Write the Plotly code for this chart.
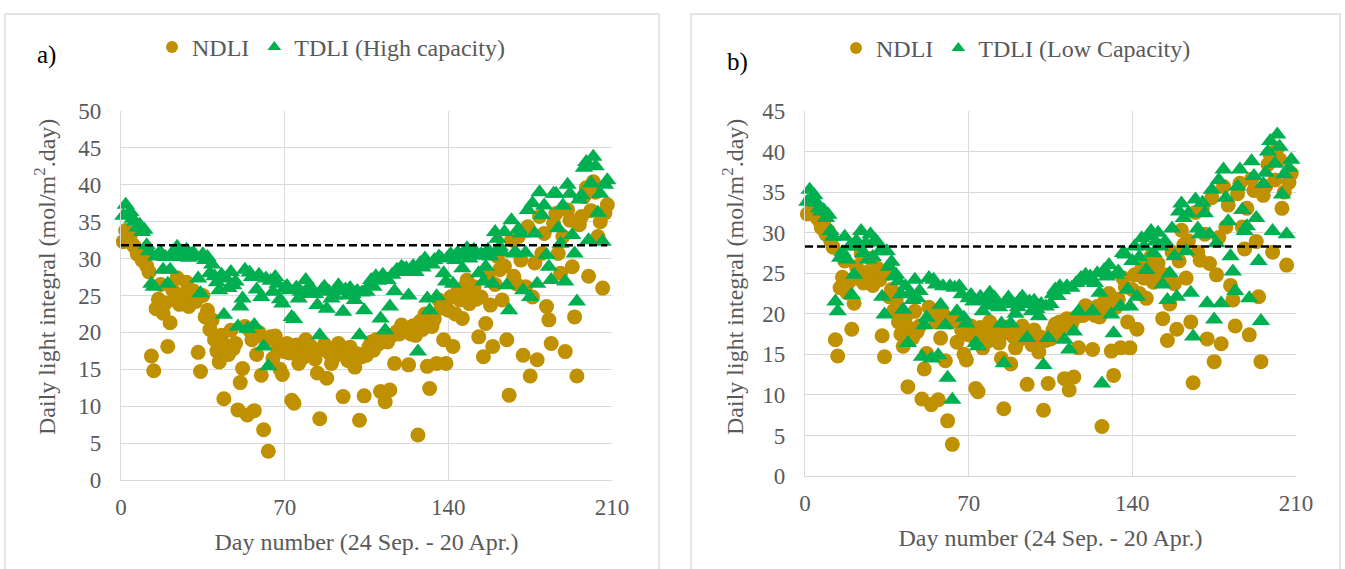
import plotly.graph_objects as go

W, H = 1345, 569

days = list(range(1, 209))

ndli = [
    32.3, 33.8, 32.8, 33.2, 31.9, 31.5, 30.6, 31.0, 29.8, 30.2,
    29.0, 28.2, 16.8, 14.8, 23.2, 24.5, 26.5, 22.6, 24.0, 18.1,
    21.3, 25.8, 24.4, 27.4, 23.8, 25.1, 24.0, 26.8, 23.5, 24.8,
    25.6, 24.2, 17.3, 14.7, 25.0, 22.1, 23.0, 20.4, 21.7, 19.0,
    17.5, 16.0, 19.6, 11.0, 18.2, 17.0, 20.3, 17.8, 18.5, 9.5,
    13.2, 15.1, 20.8, 8.8, 20.3, 19.0, 9.4, 17.0, 20.0, 14.2,
    6.8, 19.0, 3.9, 19.4, 16.5, 19.5, 18.0, 15.0, 14.3, 17.4,
    18.5, 17.2, 10.8, 10.4, 18.3, 15.8, 17.5, 16.6, 19.0, 17.8,
    18.2, 17.0, 16.4, 14.5, 8.3, 17.7, 18.4, 13.8, 17.2, 15.8,
    16.6, 17.9, 18.5, 17.2, 11.3, 17.6, 16.2, 18.0, 16.7, 15.3,
    17.1, 8.1, 16.7, 11.4, 16.9, 18.0, 18.7, 17.6, 19.0, 18.4,
    12.0, 19.4, 10.6, 18.7, 12.2, 19.6, 15.8, 20.1, 19.8, 21.0,
    20.2, 20.6, 15.6, 19.8, 20.9, 19.6, 6.1, 21.5, 20.4, 22.5,
    15.4, 12.4, 20.8, 21.8, 15.8, 24.4, 23.3, 19.0, 15.8, 23.0,
    24.8, 18.1, 22.5, 25.6, 24.4, 21.9, 26.2, 27.1, 23.9, 25.2,
    26.2, 24.5, 19.4, 24.8, 16.7, 21.2, 27.6, 23.7, 18.1, 26.5,
    30.3, 28.5, 24.4, 29.0, 19.0, 11.5, 32.5, 27.6, 26.6, 33.0,
    29.8, 16.9, 26.2, 34.3, 14.1, 24.8, 29.4, 16.3, 35.7, 30.7,
    33.4, 23.5, 21.7, 18.5, 34.8, 36.1, 30.7, 28.0, 33.0, 17.4,
    36.6, 35.2, 28.9, 22.1, 14.1, 34.6, 35.7, 38.4, 39.6, 27.6,
    36.5, 40.4, 39.0, 33.0, 35.0, 26.0, 36.2, 37.3,
]

tdli_high = [
    35.8, 37.3, 36.0, 36.3, 35.4, 35.0, 34.2, 34.6, 33.6, 33.9,
    31.8, 31.0, 26.6, 26.2, 30.3, 30.6, 30.8, 28.5, 30.2, 26.6,
    28.5, 30.8, 30.4, 31.6, 30.2, 30.7, 30.5, 31.2, 30.1, 30.6,
    30.8, 30.3, 27.3, 25.3, 30.6, 29.8, 30.2, 28.0, 29.2, 27.6,
    26.8, 25.7, 27.8, 22.4, 27.3, 26.0, 28.2, 26.4, 26.9, 20.8,
    23.5, 24.6, 28.5, 20.5, 28.1, 27.5, 21.0, 25.8, 27.8, 24.8,
    18.1, 27.3, 15.4, 27.0, 25.5, 27.5, 26.6, 24.5, 23.9, 26.0,
    26.3, 25.7, 22.1, 21.8, 26.1, 24.6, 25.5, 25.2, 27.1, 26.0,
    26.2, 25.6, 25.2, 23.7, 19.6, 25.8, 26.2, 23.2, 25.5, 24.6,
    25.0, 25.8, 26.4, 25.6, 22.8, 25.8, 25.0, 26.0, 25.2, 24.4,
    25.6, 19.6, 25.4, 23.0, 25.5, 26.3, 27.1, 26.2, 27.6, 27.0,
    21.9, 27.8, 20.3, 27.1, 23.5, 27.8, 25.6, 28.5, 28.2, 28.9,
    28.6, 28.7, 25.0, 28.3, 29.0, 28.2, 17.4, 29.4, 28.8, 30.0,
    24.6, 23.0, 29.2, 29.8, 24.9, 30.3, 30.0, 28.0, 26.9, 30.2,
    30.6, 26.6, 29.8, 30.8, 30.4, 28.7, 31.0, 31.4, 30.0, 30.7,
    31.2, 30.4, 28.0, 30.6, 26.9, 28.9, 31.2, 30.3, 26.6, 33.6,
    32.7, 31.6, 30.9, 33.6, 26.4, 23.0, 35.2, 30.7, 30.8, 34.0,
    33.4, 25.7, 30.8, 36.6, 24.8, 37.5, 33.4, 26.6, 39.0, 35.9,
    37.2, 30.5, 28.9, 27.1, 38.8, 38.8, 34.1, 32.0, 37.2, 26.9,
    40.0, 38.8, 33.2, 30.7, 24.2, 38.0, 38.6, 42.3, 43.1, 32.5,
    40.2, 43.8, 42.5, 36.2, 38.8, 32.3, 40.0, 40.6,
]

tdli_low = [
    33.8, 35.3, 34.3, 34.6, 33.7, 33.0, 32.6, 32.8, 31.8, 32.2,
    30.2, 29.5, 21.5, 20.3, 26.9, 27.6, 29.5, 26.7, 28.3, 22.3,
    24.8, 29.0, 28.3, 30.2, 27.5, 28.7, 26.7, 29.8, 27.0, 29.1,
    28.8, 27.7, 22.1, 19.9, 27.7, 25.8, 26.4, 24.6, 24.8, 24.0,
    22.4, 20.5, 23.4, 16.4, 22.6, 21.7, 24.2, 21.9, 22.8, 14.7,
    18.6, 19.5, 24.4, 14.5, 24.2, 23.6, 14.9, 21.1, 23.4, 18.6,
    12.1, 23.4, 9.4, 23.2, 20.3, 23.4, 22.4, 19.5, 18.8, 21.9,
    22.3, 21.5, 16.4, 16.0, 22.1, 20.3, 21.6, 21.0, 22.6, 21.8,
    22.0, 21.4, 20.8, 18.8, 13.9, 21.5, 22.0, 18.8, 21.2, 20.0,
    20.8, 21.8, 22.1, 21.2, 17.0, 21.5, 20.3, 21.6, 20.6, 19.7,
    21.2, 13.7, 20.9, 17.0, 21.2, 22.4, 23.0, 22.2, 23.4, 22.9,
    16.8, 23.4, 15.6, 23.2, 17.8, 23.8, 20.3, 24.4, 24.0, 24.8,
    24.2, 24.6, 20.3, 23.8, 25.0, 22.6, 11.4, 25.4, 24.6, 26.0,
    19.9, 17.6, 24.8, 25.2, 20.9, 27.5, 27.3, 23.0, 20.9, 26.5,
    28.3, 22.1, 27.0, 29.3, 28.3, 25.4, 29.6, 30.2, 27.5, 28.9,
    30.0, 28.3, 23.6, 28.9, 21.7, 25.0, 30.5, 27.1, 22.1, 32.6,
    33.6, 31.8, 27.7, 32.4, 22.6, 17.2, 34.1, 30.5, 29.8, 33.7,
    32.4, 21.3, 29.8, 35.3, 19.3, 28.7, 36.5, 21.3, 37.8, 34.3,
    31.4, 27.1, 25.2, 22.8, 35.7, 37.8, 32.8, 30.2, 30.8, 21.9,
    38.8, 37.0, 31.8, 26.5, 19.1, 36.0, 37.4, 40.0, 41.3, 30.2,
    38.5, 42.1, 40.6, 34.7, 37.2, 29.8, 38.0, 39.0,
]

target_days = [0, 208]
target_high = [31.8, 31.8]
target_low = [28.3, 28.3]

x_ticks = [0, 70, 140, 210]
y_ticks_a = list(range(0, 51, 5))
y_ticks_b = list(range(0, 46, 5))

x_title = "Day number (24 Sep. - 20 Apr.)"
y_title = "Daily light integral (mol/m<sup>2</sup>.day)"

GOLD = "#BF9000"
GREEN = "#00B050"
GRID = "#D9D9D9"
TXT = "#595959"
FONT = "Liberation Serif"

def px_x(p):
    return p / W

def px_y(p):
    return 1 - p / H

fig = go.Figure()

# panel a
fig.add_trace(go.Scatter(x=days, y=ndli, mode="markers", name="NDLI",
                         marker=dict(symbol="circle", size=15, color=GOLD, line=dict(width=0)),
                         xaxis="x", yaxis="y", cliponaxis=False, legend="legend"))
fig.add_trace(go.Scatter(x=days, y=tdli_high, mode="markers", name="TDLI (High capacity)",
                         marker=dict(symbol="triangle-up", size=16, color=GREEN, line=dict(width=0)),
                         xaxis="x", yaxis="y", cliponaxis=False, legend="legend"))
fig.add_trace(go.Scatter(x=target_days, y=target_high, mode="lines", showlegend=False,
                         line=dict(color="black", width=2.5, dash="8px,4px"),
                         xaxis="x", yaxis="y"))

# panel b
fig.add_trace(go.Scatter(x=days, y=ndli, mode="markers", name="NDLI",
                         marker=dict(symbol="circle", size=15, color=GOLD, line=dict(width=0)),
                         xaxis="x2", yaxis="y2", cliponaxis=False, legend="legend2"))
fig.add_trace(go.Scatter(x=days, y=tdli_low, mode="markers", name="TDLI (Low Capacity)",
                         marker=dict(symbol="triangle-up", size=16, color=GREEN, line=dict(width=0)),
                         xaxis="x2", yaxis="y2", cliponaxis=False, legend="legend2"))
fig.add_trace(go.Scatter(x=target_days, y=target_low, mode="lines", showlegend=False,
                         line=dict(color="black", width=2.5, dash="8px,4px"),
                         xaxis="x2", yaxis="y2"))

axis_common = dict(showgrid=True, gridcolor=GRID, gridwidth=1.3, zeroline=False,
                   showline=True, linecolor=GRID, linewidth=1.3, ticks="",
                   automargin=False,
                   tickfont=dict(family=FONT, size=23, color=TXT),
                   title_font=dict(family=FONT, size=24, color=TXT))

xa = dict(axis_common, range=[0, 210], tickvals=x_ticks, ticklabelstandoff=6,
          title=dict(text=x_title, standoff=14))

fig.update_layout(
    template="none",
    font=dict(family=FONT, color=TXT),
    width=W, height=H,
    margin=dict(l=0, r=0, t=0, b=0, autoexpand=False),
    paper_bgcolor="white", plot_bgcolor="white",
    xaxis=dict(xa, domain=[px_x(121), px_x(612)], anchor="y"),
    yaxis=dict(axis_common, range=[0, 50], tickvals=y_ticks_a, ticklabelstandoff=14,
               domain=[px_y(480), px_y(111)], anchor="x"),
    xaxis2=dict(xa, domain=[px_x(805), px_x(1296)], anchor="y2"),
    yaxis2=dict(axis_common, range=[0, 45], tickvals=y_ticks_b, ticklabelstandoff=14,
                domain=[px_y(476), px_y(111)], anchor="x2"),
    legend=dict(orientation="h", x=px_x(152), y=px_y(25), xanchor="left", yanchor="top",
                font=dict(family=FONT, size=24, color=TXT), bgcolor="rgba(0,0,0,0)",
                itemsizing="constant"),
    legend2=dict(orientation="h", x=px_x(836), y=px_y(26), xanchor="left", yanchor="top",
                 font=dict(family=FONT, size=24, color=TXT), bgcolor="rgba(0,0,0,0)",
                 itemsizing="constant"),
    shapes=[
        dict(type="rect", xref="paper", yref="paper",
             x0=px_x(5), x1=px_x(659), y0=px_y(585), y1=px_y(14),
             line=dict(color=GRID, width=1.3), fillcolor="rgba(0,0,0,0)", layer="below"),
        dict(type="rect", xref="paper", yref="paper",
             x0=px_x(691), x1=px_x(1340), y0=px_y(585), y1=px_y(14),
             line=dict(color=GRID, width=1.3), fillcolor="rgba(0,0,0,0)", layer="below"),
    ],
    annotations=[
        dict(text="a)", x=px_x(46), y=px_y(55), xref="paper", yref="paper",
             xanchor="center", yanchor="middle",
             showarrow=False, font=dict(family=FONT, size=25, color="black")),
        dict(text="b)", x=px_x(737), y=px_y(62), xref="paper", yref="paper",
             xanchor="center", yanchor="middle",
             showarrow=False, font=dict(family=FONT, size=25, color="black")),
        dict(text=y_title, x=px_x(45), y=px_y(277), xref="paper", yref="paper",
             xanchor="center", yanchor="middle", textangle=-90,
             showarrow=False, font=dict(family=FONT, size=24, color=TXT)),
        dict(text=y_title, x=px_x(733), y=px_y(277), xref="paper", yref="paper",
             xanchor="center", yanchor="middle", textangle=-90,
             showarrow=False, font=dict(family=FONT, size=24, color=TXT)),
    ],
)

fig.write_html("out.html")
